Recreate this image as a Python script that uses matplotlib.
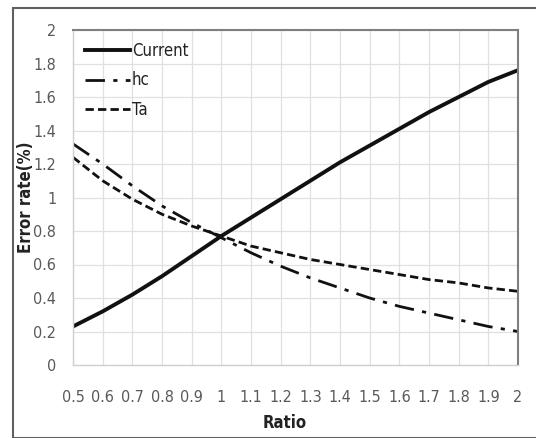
import matplotlib.pyplot as plt
from matplotlib.patches import Rectangle

plt.rcParams['font.family'] = ['DejaVu Sans']
plt.rcParams['font.stretch'] = 'condensed'

# data
ratio = [0.5, 0.6, 0.7, 0.8, 0.9, 1.0, 1.1, 1.2, 1.3, 1.4, 1.5, 1.6, 1.7, 1.8, 1.9, 2.0]
current = [0.23, 0.32, 0.42, 0.53, 0.65, 0.77, 0.88, 0.99, 1.10, 1.21, 1.31, 1.41, 1.51, 1.60, 1.69, 1.76]
hc = [1.32, 1.20, 1.07, 0.95, 0.85, 0.76, 0.67, 0.59, 0.52, 0.46, 0.40, 0.35, 0.31, 0.27, 0.23, 0.20]
ta = [1.24, 1.10, 0.99, 0.90, 0.83, 0.77, 0.71, 0.67, 0.63, 0.60, 0.57, 0.54, 0.51, 0.49, 0.46, 0.44]

xticks = [0.5, 0.6, 0.7, 0.8, 0.9, 1, 1.1, 1.2, 1.3, 1.4, 1.5, 1.6, 1.7, 1.8, 1.9, 2]
yticks = [0, 0.2, 0.4, 0.6, 0.8, 1, 1.2, 1.4, 1.6, 1.8, 2]

fig = plt.figure(figsize=(5.36, 4.38), dpi=100)
ax = fig.add_axes([73 / 536, 1 - 365 / 438, 445 / 536, 335 / 438])

ax.plot(ratio, current, color='#111111', lw=2.8, label='Current')
ax.plot(ratio, hc, color='#111111', lw=2.0, dashes=(7, 3, 1.5, 3), label='hc')
ax.plot(ratio, ta, color='#111111', lw=2.0, dashes=(3, 1.5), label='Ta')

ax.set_xlim(0.5, 2)
ax.set_ylim(0, 2)
ax.set_xticks(xticks)
ax.set_xticklabels([('%g' % t) for t in xticks])
ax.set_yticks(yticks)
ax.set_yticklabels([('%g' % t) for t in yticks])
ax.tick_params(length=0, labelsize=11.5, labelcolor='#595959')
ax.tick_params(axis='x', pad=18)
ax.tick_params(axis='y', pad=12)
ax.grid(True, color='#e0e0e0', lw=0.9)
ax.set_axisbelow(True)
for side in ['top', 'right']:
    ax.spines[side].set_color('#7f7f7f')
    ax.spines[side].set_linewidth(1.5)
for side in ['left', 'bottom']:
    ax.spines[side].set_color('#d0d0d0')
    ax.spines[side].set_linewidth(1.0)

ax.set_xlabel('Ratio', fontsize=12, fontweight='bold', color='#222222')
ax.xaxis.set_label_coords(0.475, -0.145)
ax.set_ylabel('Error rate(%)', fontsize=12, fontweight='bold', color='#222222')
ax.yaxis.set_label_coords(-0.085, 0.5)

leg = ax.legend(loc='upper left', fontsize=12, frameon=False, handlelength=2.7,
                handletextpad=0.1, labelspacing=0.7, borderaxespad=0.2,
                bbox_to_anchor=(0.005, 0.995))
for t in leg.get_texts():
    t.set_color('#222222')

# outer frame around the whole chart
fig.patches.append(Rectangle((13 / 536, 0.0), 1.0, 1 - 8 / 438, transform=fig.transFigure,
                             fill=False, edgecolor='#606060', lw=1.5))

fig.savefig('out.png', dpi=100)
